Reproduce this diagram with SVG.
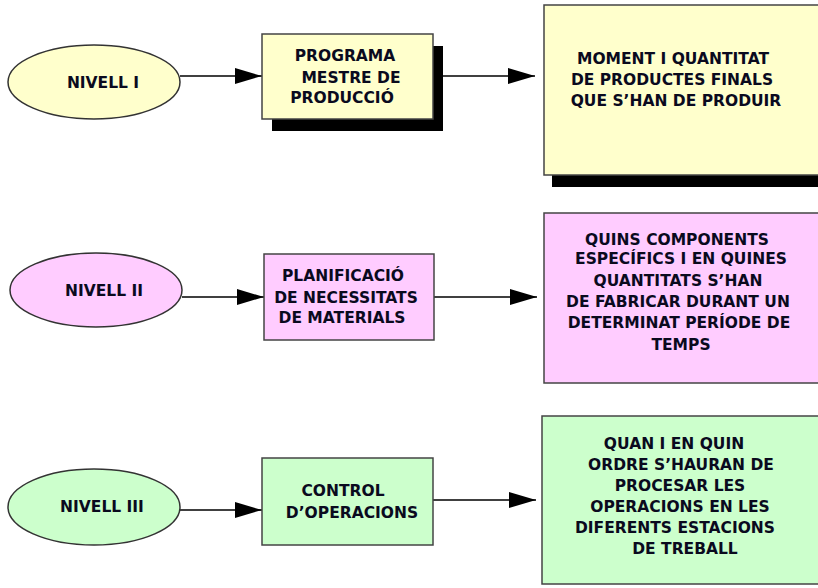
<svg xmlns="http://www.w3.org/2000/svg" width="818" height="588" viewBox="0 0 818 588">
<defs>
<marker id="ah" markerUnits="userSpaceOnUse" markerWidth="28" markerHeight="16" refX="27" refY="8" orient="auto">
<path d="M0,0 L27,8 L0,16 Z" fill="#000"/>
</marker>
<style>
.t{font-family:"DejaVu Sans",Verdana,sans-serif;font-weight:bold;font-size:15.5px;fill:#0a0a1e;text-anchor:middle}
.e{stroke:#333;stroke-width:1.5}
.b{stroke:#444;stroke-width:1.5}
.y{fill:#ffffcc}.p{fill:#ffccff}.g{fill:#ccffcc}
.sh{fill:#000}
.c{stroke:#000;stroke-width:1.6;fill:none;marker-end:url(#ah)}
</style>
</defs>
<rect width="818" height="588" fill="#fff"/>
<g id="connectors">
<line class="c" x1="180" y1="76" x2="262" y2="76"/>
<line class="c" x1="433" y1="76" x2="535" y2="76"/>
<line class="c" x1="182" y1="297" x2="264" y2="297"/>
<line class="c" x1="434" y1="297" x2="537" y2="297"/>
<line class="c" x1="180" y1="510" x2="262" y2="510"/>
<line class="c" x1="430" y1="500" x2="536" y2="500"/>
</g>
<g id="nivell1">
<ellipse class="e y" cx="94" cy="82" rx="86" ry="37"/>
<text class="t" x="103" y="88">NIVELL I</text>
</g>
<g id="programa">
<rect class="sh" x="272" y="46" width="171" height="85"/>
<rect class="b y" x="262" y="34" width="171" height="85"/>
<text class="t" x="345" y="61">PROGRAMA</text>
<text class="t" x="351" y="83">MESTRE DE</text>
<text class="t" x="342" y="103">PRODUCCIÓ</text>
</g>
<g id="moment">
<rect class="sh" x="552" y="17" width="280" height="170"/>
<rect class="b y" x="544" y="5" width="290" height="170"/>
<text class="t" x="673" y="64">MOMENT I QUANTITAT</text>
<text class="t" x="672" y="85">DE PRODUCTES FINALS</text>
<text class="t" x="676" y="106">QUE S’HAN DE PRODUIR</text>
</g>
<g id="nivell2">
<ellipse class="e p" cx="96" cy="290" rx="86" ry="37"/>
<text class="t" x="104" y="296">NIVELL II</text>
</g>
<g id="planificacio">
<rect class="b p" x="264" y="254" width="170" height="86"/>
<text class="t" x="343" y="281">PLANIFICACIÓ</text>
<text class="t" x="346" y="303">DE NECESSITATS</text>
<text class="t" x="342" y="323">DE MATERIALS</text>
</g>
<g id="quins">
<rect class="b p" x="544" y="213" width="290" height="170"/>
<text class="t" x="677" y="245">QUINS COMPONENTS</text>
<text class="t" x="681" y="264">ESPECÍFICS I EN QUINES</text>
<text class="t" x="678" y="286">QUANTITATS S’HAN</text>
<text class="t" x="678" y="307">DE FABRICAR DURANT UN</text>
<text class="t" x="679" y="328">DETERMINAT PERÍODE DE</text>
<text class="t" x="681" y="350">TEMPS</text>
</g>
<g id="nivell3">
<ellipse class="e g" cx="94" cy="507" rx="86" ry="38"/>
<text class="t" x="102" y="512">NIVELL III</text>
</g>
<g id="control">
<rect class="b g" x="262" y="458" width="171" height="87"/>
<text class="t" x="343" y="496">CONTROL</text>
<text class="t" x="352" y="518">D’OPERACIONS</text>
</g>
<g id="quan">
<rect class="b g" x="542" y="416" width="292" height="168"/>
<text class="t" x="674" y="449">QUAN I EN QUIN</text>
<text class="t" x="681" y="470">ORDRE S’HAURAN DE</text>
<text class="t" x="680" y="491">PROCESAR LES</text>
<text class="t" x="680" y="512">OPERACIONS EN LES</text>
<text class="t" x="675" y="533">DIFERENTS ESTACIONS</text>
<text class="t" x="685" y="554">DE TREBALL</text>
</g>
</svg>
